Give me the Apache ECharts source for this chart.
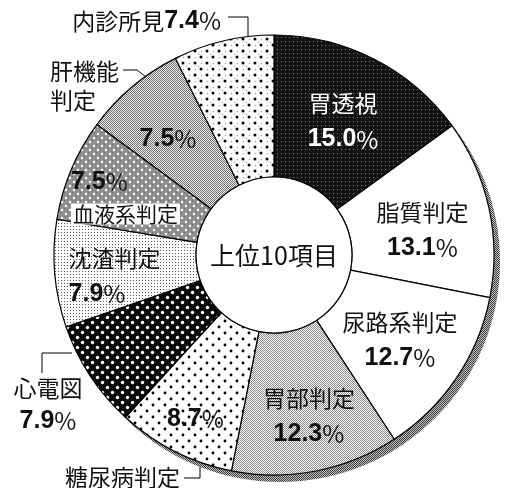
<!DOCTYPE html>
<html>
<head>
<meta charset="utf-8">
<script src="https://cdn.jsdelivr.net/npm/echarts@6/dist/echarts.min.js"></script>
<style>
  html, body { margin: 0; padding: 0; background: #fff; }
  #main { width: 507px; height: 488px; }
</style>
</head>
<body>
<div id="main"></div>
<script>
// data (percent, clockwise from 12 o'clock)
var names = ['胃透視', '脂質判定', '尿路系判定', '胃部判定', '糖尿病判定', '心電図', '沈渣判定', '血液系判定', '肝機能判定', '内診所見'];
var values = [15.0, 13.1, 12.7, 12.3, 8.7, 7.9, 7.9, 7.5, 7.5, 7.4];
var centerText = '上位10項目';

var CJK = '"Noto Sans CJK JP", sans-serif';
var NUM = '"Liberation Sans", Arial, sans-serif';

// small canvas tiles for the screen-tone fills
function tile(w, h, bg, draw) {
  var c = document.createElement('canvas');
  c.width = w; c.height = h;
  var g = c.getContext('2d');
  g.fillStyle = bg;
  g.fillRect(0, 0, w, h);
  if (draw) draw(g);
  return { image: c, repeat: 'repeat' };
}
function dot(g, x, y, r, col) {
  g.fillStyle = col;
  g.beginPath();
  g.arc(x, y, r, 0, Math.PI * 2);
  g.fill();
}
function checker(a, b) {
  return tile(2, 2, a, function (g) {
    g.fillStyle = b;
    g.fillRect(0, 0, 1, 1);
    g.fillRect(1, 1, 1, 1);
  });
}

var fills = {
  '胃透視': tile(4, 4, '#141414', function (g) { g.fillStyle = 'rgba(255,255,255,0.45)'; g.fillRect(1, 1, 1, 1); }),
  '脂質判定': '#ffffff',
  '尿路系判定': '#ffffff',
  '胃部判定': checker('#ffffff', '#888888'),
  '糖尿病判定': tile(12, 12, '#ffffff', function (g) { dot(g, 3, 3, 1.4, '#000'); dot(g, 9, 9, 1.4, '#000'); }),
  '心電図': tile(10, 10, '#0a0a0a', function (g) { dot(g, 2.5, 2.5, 1.7, '#fff'); dot(g, 7.5, 7.5, 1.7, '#fff'); }),
  '沈渣判定': tile(3, 3, '#ffffff', function (g) { g.fillStyle = '#555'; g.fillRect(1, 1, 1, 1); }),
  '血液系判定': tile(8, 8, '#8e8e8e', function (g) {
    g.fillStyle = '#6a6a6a'; g.fillRect(0, 0, 1, 1); g.fillRect(4, 4, 1, 1);
    dot(g, 2, 6, 1.2, '#fff'); dot(g, 6, 2, 1.2, '#fff');
  }),
  '肝機能判定': checker('#f4f4f4', '#6a6a6a'),
  '内診所見': tile(12, 12, '#ffffff', function (g) {
    dot(g, 3, 3, 1.5, '#000'); dot(g, 9, 9, 1.5, '#000');
    g.fillStyle = '#888'; g.fillRect(9, 3, 1, 1); g.fillRect(3, 9, 1, 1); g.fillRect(6, 6, 1, 1);
  })
};

// how each slice is labelled inside the ring
var insideMode = {
  '胃透視': 'both', '脂質判定': 'both', '尿路系判定': 'both', '胃部判定': 'both',
  '糖尿病判定': 'value', '心電図': 'none', '沈渣判定': 'both', '血液系判定': 'boxed',
  '肝機能判定': 'value', '内診所見': 'none'
};
// small nudges of inside labels
var insideShift = {
  '糖尿病判定': { dx: -10, dy: 28 },
  '沈渣判定': { dx: -54, dy: 8, align: 'left' },
  '血液系判定': { dx: -63, dy: 0, align: 'left' },
  '胃部判定': { dx: 6, dy: 12 },
  '脂質判定': { dx: 0, dy: 8 },
  '肝機能判定': { dx: -8, dy: 0 },
  '胃透視': { dx: 0, dy: 2 }
};
// outside labels: text anchor and elbow leader line
var outside = {
  '内診所見': { x: 221, y: 21, align: 'right', va: 'middle', line: [[248, 52], [248, 17], [228, 17]] },
  '肝機能判定': { x: 50, y: 57, align: 'left', va: 'top', line: [[160, 88], [137, 70], [123, 70]] },
  '心電図': { x: 48, y: 374, align: 'center', va: 'top', line: [[72, 353], [42, 353], [42, 373]] },
  '糖尿病判定': { x: 180, y: 477, align: 'right', va: 'middle', line: [[200, 437], [200, 478], [184, 478]] }
};

var rich = {
  b: { fontSize: 23, fontFamily: CJK, lineHeight: 36 },
  v: { fontSize: 25, fontFamily: NUM, fontWeight: 'bold', lineHeight: 36 },
  p: { fontSize: 24, fontFamily: CJK, fontWeight: 'normal', lineHeight: 36 },
  box: { fontSize: 21, fontFamily: CJK, backgroundColor: '#fff', padding: [0, 2], lineHeight: 28 },
  s: { fontSize: 23, fontFamily: CJK, lineHeight: 29 }
};

function pct(v) { return '{v|' + v.toFixed(1) + '}{p|%}'; }

var mainData = names.map(function (n, i) {
  return {
    name: n,
    value: values[i],
    itemStyle: { color: fills[n] },
    label: {
      show: insideMode[n] !== 'none',
      color: n === '胃透視' ? '#fff' : '#111'
    }
  };
});

var outerData = names.map(function (n, i) {
  return {
    name: n,
    value: values[i],
    label: { show: !!outside[n] },
    labelLine: { show: !!outside[n] }
  };
});

var chart = echarts.init(document.getElementById('main'), null, { renderer: 'canvas' });

chart.setOption({
  backgroundColor: '#fff',
  animation: false,
  series: [
    {
      // drop shadow behind the ring
      type: 'pie',
      silent: true,
      center: [280, 262],
      radius: [0, 220],
      startAngle: 90,
      label: { show: false },
      labelLine: { show: false },
      itemStyle: { color: checker('#c4c4c4', '#3a3a3a') },
      data: [{ name: 'shadow', value: 1 }]
    },
    {
      type: 'pie',
      silent: true,
      center: [274, 255],
      radius: [78, 220],
      startAngle: 90,
      clockwise: true,
      avoidLabelOverlap: false,
      itemStyle: { borderColor: '#000', borderWidth: 1.2 },
      label: {
        position: 'inside',
        rich: rich,
        formatter: function (p) {
          var m = insideMode[p.name];
          if (m === 'value') return pct(p.value);
          if (m === 'boxed') return pct(p.value) + '\n{box|' + p.name + '}';
          return '{b|' + p.name + '}\n' + pct(p.value);
        }
      },
      labelLine: { show: false },
      labelLayout: function (p) {
        return insideShift[names[p.dataIndex]] || {};
      },
      data: mainData
    },
    {
      type: 'pie',
      silent: true,
      center: [274, 255],
      radius: [0, 78],
      label: {
        position: 'center',
        formatter: '{b}',
        fontFamily: CJK,
        fontSize: 25,
        color: '#111'
      },
      labelLine: { show: false },
      itemStyle: { color: '#fff', borderColor: '#000', borderWidth: 1.2 },
      data: [{ name: centerText, value: 1 }]
    },
    {
      // transparent copy of the ring that carries the outside labels
      type: 'pie',
      silent: true,
      center: [274, 255],
      radius: [78, 220],
      startAngle: 90,
      avoidLabelOverlap: false,
      itemStyle: { color: 'rgba(0,0,0,0)', borderWidth: 0 },
      label: {
        position: 'outside',
        color: '#111',
        rich: rich,
        formatter: function (p) {
          if (p.name === '内診所見') return '{b|' + p.name + '}' + pct(p.value);
          if (p.name === '心電図') return '{s|' + p.name + '}\n' + pct(p.value);
          if (p.name === '肝機能判定') return '{s|' + p.name.slice(0, 3) + '}\n{s|' + p.name.slice(3) + '}';
          return '{b|' + p.name + '}';
        }
      },
      labelLine: { lineStyle: { color: '#000', width: 1 } },
      labelLayout: function (p) {
        var o = outside[names[p.dataIndex]];
        if (!o) return {};
        return { x: o.x, y: o.y, align: o.align, verticalAlign: o.va, labelLinePoints: o.line };
      },
      data: outerData
    }
  ]
});
</script>
</body>
</html>
